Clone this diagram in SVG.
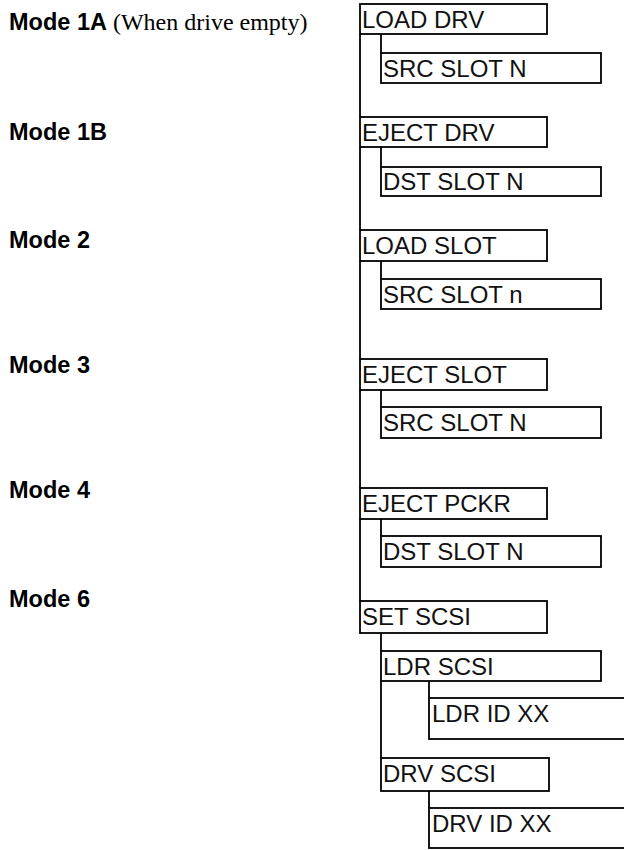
<svg xmlns="http://www.w3.org/2000/svg" width="624" height="850" viewBox="0 0 624 850">
<style>
.box{fill:#fff;stroke:#000;stroke-width:1.8}
.t{font-family:"Liberation Sans",Arial,sans-serif;font-size:24px;fill:#111}
.m{font-family:"Liberation Sans",Arial,sans-serif;font-size:23.5px;font-weight:bold;fill:#000}
.s{font-family:"Liberation Serif","Times New Roman",serif;font-size:24px;fill:#000;font-weight:normal}
.c{stroke:#000;stroke-width:1.8;fill:none}
</style>
<rect width="624" height="850" fill="#fff"/>
<g id="labels">
<text class="m" x="9" y="30">Mode 1A<tspan class="s"> (When drive empty)</tspan></text>
<text class="m" x="9" y="140">Mode 1B</text>
<text class="m" x="9" y="248">Mode 2</text>
<text class="m" x="9" y="373">Mode 3</text>
<text class="m" x="9" y="498">Mode 4</text>
<text class="m" x="9" y="607">Mode 6</text>
</g>
<g id="connectors">
<path class="c" d="M360,34V117M360,147V230M360,261V359M360,390V488M360,519V601"/>
<path class="c" d="M381,34V53M381,147V167M381,261V279M381,390V407M381,519V536M381,633V651M381,681V758"/>
<path class="c" d="M429,681V698M429,791V808"/>
</g>
<g id="load-drv"><rect class="box" x="360" y="4" width="187" height="30"/><text class="t" x="362" y="27.5">LOAD DRV</text></g>
<g id="src-slot-1a"><rect class="box" x="381" y="53" width="220" height="30"/><text class="t" x="383" y="76.5">SRC SLOT N</text></g>
<g id="eject-drv"><rect class="box" x="360" y="117" width="187" height="30"/><text class="t" x="362" y="140.5">EJECT DRV</text></g>
<g id="dst-slot-1b"><rect class="box" x="381" y="167" width="220" height="29"/><text class="t" x="383" y="190">DST SLOT N</text></g>
<g id="load-slot"><rect class="box" x="360" y="230" width="187" height="31"/><text class="t" x="362" y="253.5">LOAD SLOT</text></g>
<g id="src-slot-2"><rect class="box" x="381" y="279" width="220" height="30"/><text class="t" x="383" y="302.5">SRC SLOT n</text></g>
<g id="eject-slot"><rect class="box" x="360" y="359" width="187" height="31"/><text class="t" x="362" y="382.5">EJECT SLOT</text></g>
<g id="src-slot-3"><rect class="box" x="381" y="407" width="220" height="31"/><text class="t" x="383" y="430.5">SRC SLOT N</text></g>
<g id="eject-pckr"><rect class="box" x="360" y="488" width="187" height="31"/><text class="t" x="362" y="511.5">EJECT PCKR</text></g>
<g id="dst-slot-4"><rect class="box" x="381" y="536" width="220" height="31"/><text class="t" x="383" y="559.5">DST SLOT N</text></g>
<g id="set-scsi"><rect class="box" x="360" y="601" width="187" height="32"/><text class="t" x="362" y="625">SET SCSI</text></g>
<g id="ldr-scsi"><rect class="box" x="381" y="651" width="220" height="30"/><text class="t" x="383" y="674.5">LDR SCSI</text></g>
<g id="ldr-id"><rect class="box" x="429" y="698" width="220" height="41"/><text class="t" x="432" y="722">LDR ID XX</text></g>
<g id="drv-scsi"><rect class="box" x="381" y="758" width="168" height="33"/><text class="t" x="383" y="782">DRV SCSI</text></g>
<g id="drv-id"><rect class="box" x="429" y="808" width="220" height="40"/><text class="t" x="432" y="832">DRV ID XX</text></g>
</svg>
